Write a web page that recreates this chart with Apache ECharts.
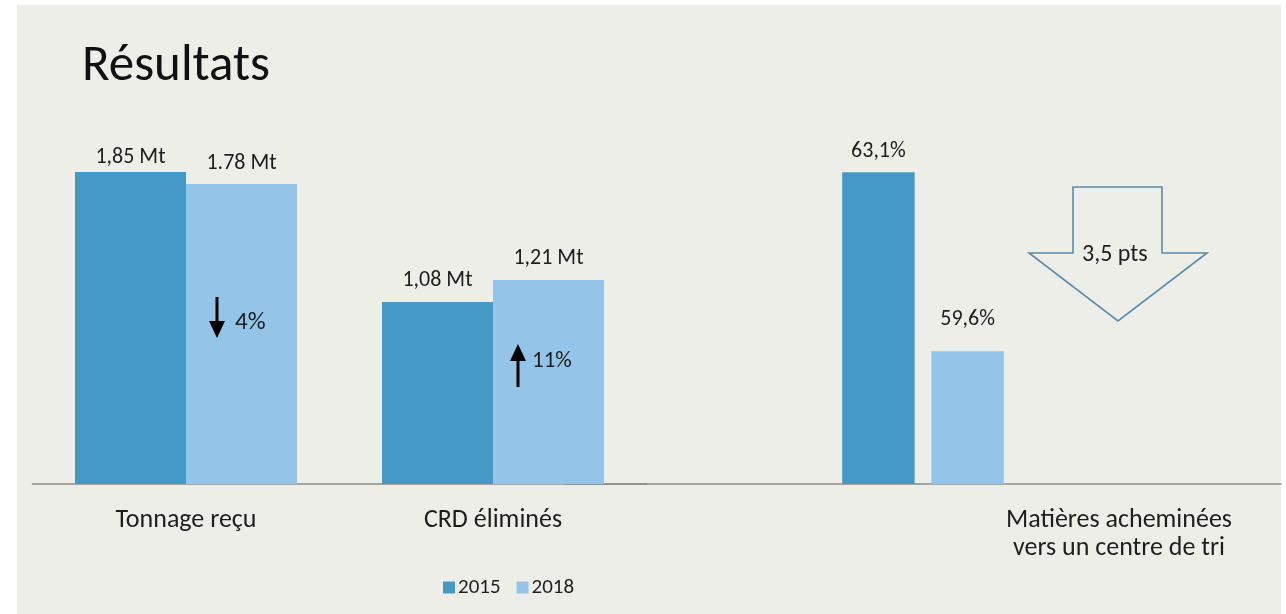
<!DOCTYPE html>
<html>
<head>
<meta charset="utf-8">
<script src="https://cdn.jsdelivr.net/npm/echarts@6/dist/echarts.min.js"></script>
<style>
  html, body { margin: 0; padding: 0; background: #ffffff; }
  #wrap { position: relative; width: 1286px; height: 614px; background: #ffffff; overflow: hidden; }
  #bg { position: absolute; left: 17px; top: 5px; width: 1264px; height: 609px; background: #eeeee9; }
  #chart { position: absolute; left: 0; top: 0; width: 1286px; height: 614px; }
</style>
</head>
<body>
<div id="wrap"><div id="bg"></div><div id="chart"></div></div>
<script>
// ---- data ----
const titleText = 'Résultats';
const seriesNames = ['2015', '2018'];
const categoriesMt = ['Tonnage reçu', 'CRD éliminés'];
const values2015Mt = [1.85, 1.08];
const values2018Mt = [1.78, 1.21];
const labels2015Mt = ['1,85 Mt', '1,08 Mt'];
const labels2018Mt = ['1.78 Mt', '1,21 Mt'];
const categoriesPct = ['Matières acheminées\nvers un centre de tri'];
const values2015Pct = [63.1];
const values2018Pct = [59.6];
const labels2015Pct = ['63,1%'];
const labels2018Pct = ['59,6%'];
const changeTonnage = '4%';
const changeCRD = '11%';
const changePct = '3,5 pts';

// ---- styles ----
const FONT = 'Carlito, Lato, "Noto Sans", sans-serif';
const C2015 = '#4499c6';
const C2018 = '#94c5e8';
const TXT = '#1e1e1e';

const chart = echarts.init(document.getElementById('chart'), null, { renderer: 'canvas' });

function labelFn(arr) { return p => arr[p.dataIndex]; }

const barLabel = (arr, dists) => ({
  show: true, position: 'top', distance: dists[0], formatter: labelFn(arr),
  fontFamily: FONT, fontSize: 22, color: TXT
});

function withDist(values, dists) {
  return values.map((v, i) => ({ value: v, label: { distance: dists[i] } }));
}

const xAxisCommon = {
  type: 'category',
  axisTick: { show: false },
  axisLine: { show: true, lineStyle: { color: '#8c8c8c', width: 1.5 } },
  axisLabel: { fontFamily: FONT, fontSize: 26, color: TXT, margin: 22, lineHeight: 28, interval: 0 }
};

const option = {
  animation: false,
  backgroundColor: 'transparent',
  textStyle: { fontFamily: FONT },
  title: {
    text: titleText, left: 77, top: 37,
    textStyle: { fontFamily: FONT, fontSize: 51, fontWeight: 'normal', color: '#111' }
  },
  legend: {
    data: seriesNames, left: 438, top: 572, icon: 'rect',
    itemWidth: 12, itemHeight: 12, itemGap: 16,
    textStyle: { fontFamily: FONT, fontSize: 21, color: TXT, padding: [0, 0, 0, -2] }
  },
  grid: [
    { left: 32.5, width: 614, top: 146.8, height: 337.2 },
    { left: 565, width: 716, top: 146.8, height: 337.2 }
  ],
  xAxis: [
    Object.assign({}, xAxisCommon, { gridIndex: 0, data: categoriesMt }),
    Object.assign({}, xAxisCommon, { gridIndex: 1, data: categoriesPct,
      axisLabel: Object.assign({}, xAxisCommon.axisLabel, { padding: [0, 0, 0, 392] }) })
  ],
  yAxis: [
    { type: 'value', gridIndex: 0, min: 0, max: 2.0, show: false, splitLine: { show: false } },
    { type: 'value', gridIndex: 1, min: 57, max: 63.6, show: false, splitLine: { show: false } }
  ],
  series: [
    { name: seriesNames[0], type: 'bar', xAxisIndex: 0, yAxisIndex: 0, data: withDist(values2015Mt, [4, 10]),
      barWidth: 111, barGap: '0%', itemStyle: { color: C2015 }, label: barLabel(labels2015Mt, [4, 10]) },
    { name: seriesNames[1], type: 'bar', xAxisIndex: 0, yAxisIndex: 0, data: withDist(values2018Mt, [9, 10]),
      barWidth: 111, barGap: '0%', itemStyle: { color: C2018 }, label: barLabel(labels2018Mt, [9, 10]) },
    { name: seriesNames[0], type: 'bar', xAxisIndex: 1, yAxisIndex: 1, data: withDist(values2015Pct, [10]),
      barWidth: 72.5, barGap: '23%', itemStyle: { color: C2015 }, label: barLabel(labels2015Pct, [10]) },
    { name: seriesNames[1], type: 'bar', xAxisIndex: 1, yAxisIndex: 1, data: withDist(values2018Pct, [21]),
      barWidth: 72.5, barGap: '23%', itemStyle: { color: C2018 }, label: barLabel(labels2018Pct, [21]) }
  ],
  graphic: [
    // down arrow (Tonnage)
    { type: 'line', z: 100, shape: { x1: 217, y1: 297, x2: 217, y2: 328 }, style: { stroke: '#000', lineWidth: 3 } },
    { type: 'polygon', z: 100, shape: { points: [[209, 321], [225, 321], [217, 338]] }, style: { fill: '#000' } },
    { type: 'text', z: 100, left: 235, top: 310, style: { text: changeTonnage, fontFamily: FONT, fontSize: 25, fill: TXT } },
    // up arrow (CRD)
    { type: 'line', z: 100, shape: { x1: 518, y1: 355, x2: 518, y2: 387 }, style: { stroke: '#000', lineWidth: 3 } },
    { type: 'polygon', z: 100, shape: { points: [[510, 361], [526, 361], [518, 344]] }, style: { fill: '#000' } },
    { type: 'text', z: 100, left: 532, top: 350, style: { text: changeCRD, fontFamily: FONT, fontSize: 23, fill: TXT } },
    // big hollow arrow
    { type: 'polygon', z: 100, shape: { points: [[1073, 187], [1162, 187], [1162, 253], [1207, 253], [1118, 321], [1029, 253], [1073, 253]] },
      style: { fill: '#eeeee9', stroke: '#5b8cab', lineWidth: 1.6 } },
    { type: 'text', z: 101, left: 1082, top: 243, style: { text: changePct, fontFamily: FONT, fontSize: 24, fill: TXT } }
  ]
};

chart.setOption(option);
</script>
</body>
</html>
